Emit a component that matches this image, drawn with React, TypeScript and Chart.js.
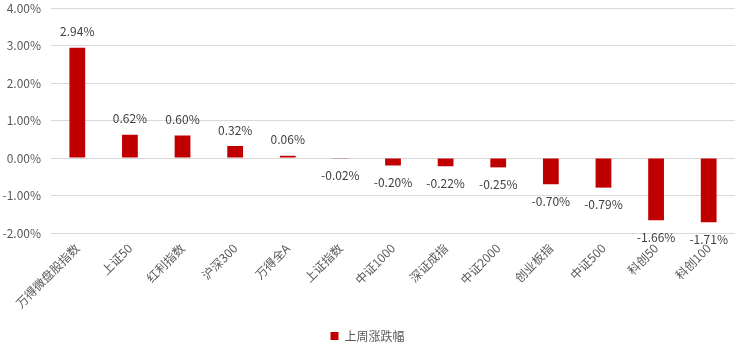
import React, { useEffect, useRef } from "react";
import { Chart, registerables } from "chart.js";

Chart.register(...registerables);

const categories = ["万得微盘股指数", "上证50", "红利指数", "沪深300", "万得全A", "上证指数", "中证1000", "深证成指", "中证2000", "创业板指", "中证500", "科创50", "科创100"];
const weeklyChange = [2.94, 0.62, 0.60, 0.32, 0.06, -0.02, -0.20, -0.22, -0.25, -0.70, -0.79, -1.66, -1.71];
const seriesName = "上周涨跌幅";
const yMin = -2;
const yMax = 4;
const yStep = 1;

const FONT = "'Noto Sans CJK SC', 'Microsoft YaHei', sans-serif";

const labelPlugin = {
  id: "barLabels",
  afterDatasetsDraw(chart: any) {
    const ctx = chart.ctx;
    const meta = chart.getDatasetMeta(0);
    ctx.save();
    ctx.font = `12px ${FONT}`;
    ctx.fillStyle = "#404040";
    ctx.textAlign = "center";
    ctx.textBaseline = "middle";
    meta.data.forEach((bar: any, i: number) => {
      const v = weeklyChange[i];
      const txt = v.toFixed(2) + "%";
      const y = v >= 0 ? bar.y - 16 : bar.y + 17;
      ctx.fillText(txt, bar.x, y);
    });
    ctx.restore();
  },
};

export default function App() {
  const ref = useRef<HTMLCanvasElement | null>(null);
  useEffect(() => {
    if (!ref.current) return;
    const chart = new Chart(ref.current, {
      type: "bar",
      data: {
        labels: categories,
        datasets: [
          {
            label: seriesName,
            data: weeklyChange,
            backgroundColor: "#C00000",
            borderWidth: 0,
            barPercentage: 0.3,
            categoryPercentage: 1,
          },
        ],
      },
      options: {
        animation: false,
        responsive: false,
        maintainAspectRatio: false,
        layout: { padding: { top: 8, right: 4, bottom: 0, left: 0 } },
        plugins: {
          tooltip: { enabled: false },
          legend: {
            position: "bottom",
            labels: {
              font: { family: FONT, size: 12 },
              color: "#595959",
              boxWidth: 8,
              boxHeight: 8,
              padding: 4,
            },
          },
        },
        scales: {
          x: {
            grid: { display: false, drawTicks: false },
            border: { display: false },
            ticks: {
              font: { family: FONT, size: 12 },
              color: "#595959",
              maxRotation: 45,
              minRotation: 45,
              autoSkip: false,
              padding: 8,
            },
            afterFit(scale: any) {
              scale.height = 93;
              scale.paddingTop = 0;
            },
          },
          y: {
            min: yMin,
            max: yMax,
            grid: { color: "#d9d9d9", drawTicks: false, lineWidth: 1 },
            border: { display: false },
            ticks: {
              stepSize: yStep,
              font: { family: FONT, size: 12 },
              color: "#595959",
              padding: 10,
              callback: (v: any) => Number(v).toFixed(2) + "%",
            },
            afterFit(scale: any) {
              scale.width = 51;
              scale.paddingTop = 0;
              scale.paddingBottom = 0;
            },
          },
        },
      },
      plugins: [labelPlugin],
    } as any);
    return () => chart.destroy();
  }, []);
  return (
    <div style={{ position: "absolute", left: 0, top: 0, width: 739, height: 352, background: "#fff" }}>
      <canvas ref={ref} width={739} height={352} style={{ width: 739, height: 352 }} />
    </div>
  );
}
